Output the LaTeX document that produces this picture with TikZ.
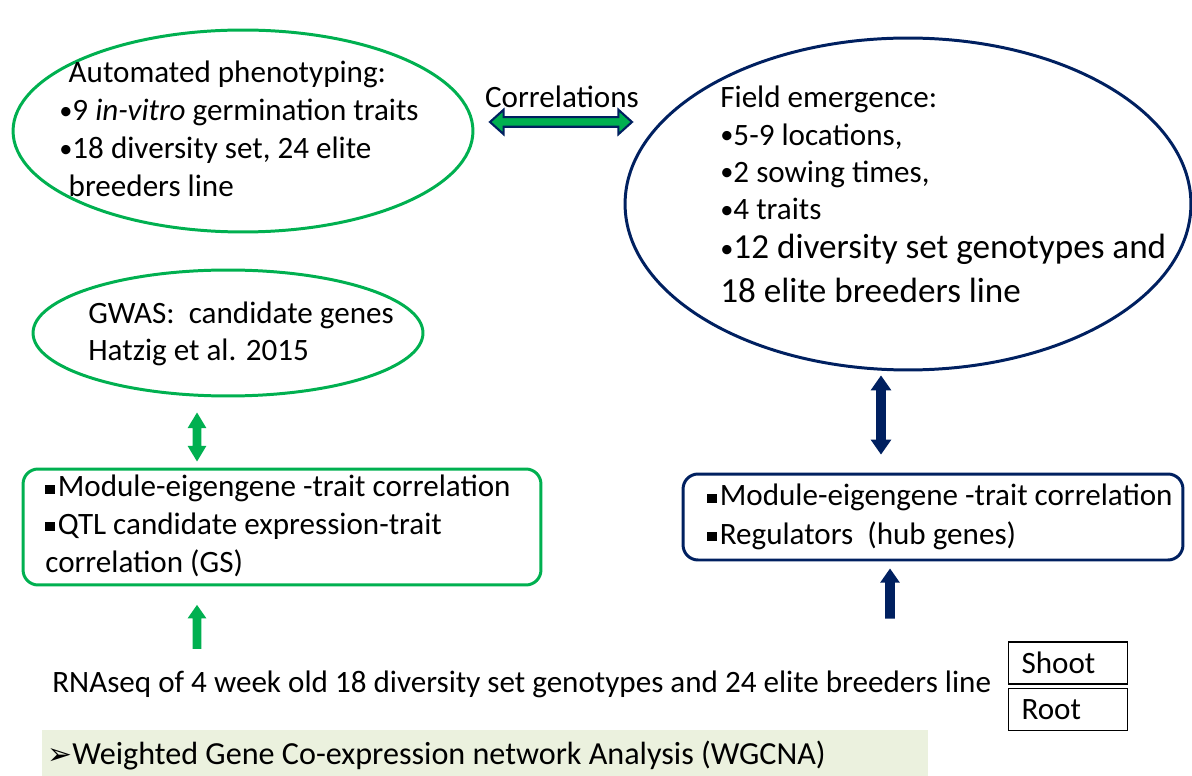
\documentclass[tikz,border=0pt]{standalone}
\usepackage{fontspec}
\setmainfont{Carlito}
\newfontfamily\symfont{DejaVu Sans}
\usetikzlibrary{shapes.geometric,shapes.arrows}
\definecolor{pptgreen}{HTML}{00B050}
\definecolor{pptnavy}{HTML}{002060}
\definecolor{barfill}{HTML}{EBF1DE}
\newcommand{\sqbul}{\rule[0.1em]{0.3em}{0.3em}\hspace{0.1em}}
\newcommand{\bul}{{\fontsize{15}{17}\selectfont\raisebox{0.06em}{•}}}

\begin{document}
\begin{tikzpicture}[x=0.02cm, y=-0.02cm,
    greenell/.style={ellipse, draw=pptgreen, line width=1.7pt, inner sep=0pt},
    navyell/.style={ellipse, draw=pptnavy, line width=1.7pt, inner sep=0pt},
    greenbox/.style={rounded corners=0.3cm, draw=pptgreen, line width=1.7pt},
    navybox/.style={rounded corners=0.3cm, draw=pptnavy, line width=1.7pt},
    txt/.style={align=left, inner sep=0pt, font=\fontsize{17.7}{21.2}\selectfont},
    tissue/.style={draw, line width=0.9pt, minimum width=2.38cm, minimum height=0.84cm,
        text width=1.86cm, inner xsep=0.26cm, align=left, font=\fontsize{17.7}{21}\selectfont},
    fatdouble/.style={double arrow, rotate=90, inner sep=0.08cm, double arrow head extend=0.1cm},
    fatsingle/.style={single arrow, rotate=90, inner sep=0.08cm, single arrow head extend=0.1cm}]
    \useasboundingbox (0,0) rectangle (1192,776);

    % Ellipses
    \node[greenell, minimum width=9.2cm, minimum height=4.04cm] (pheno) at (243,131) {};
    \node[navyell, minimum width=11.32cm, minimum height=6.64cm] (field) at (908,204) {};
    \node[greenell, minimum width=7.8cm, minimum height=2.52cm] (gwas) at (228,333) {};

    \node[txt, anchor=north west, font=\fontsize{17.7}{21.6}\selectfont] (phenotxt) at (59,61)
        {\hspace*{0.3em}Automated phenotyping:\\
         \bul9 \textit{in-vitro} germination traits\\
         \bul18 diversity set, 24 elite\\
         \hspace*{0.3em}breeders line};
    \node[txt, anchor=north west, font=\fontsize{17.7}{21.2}\selectfont] (fieldtxt) at (720,86)
        {Field emergence:\\ \bul5-9 locations,\\ \bul2 sowing times,\\ \bul4 traits\\[1pt]
         {\fontsize{20}{24.4}\selectfont \bul12 diversity set genotypes and}\\[4pt]
         {\fontsize{20}{24.4}\selectfont 18 elite breeders line}};
    \node[txt, anchor=north west, font=\fontsize{17.7}{20.6}\selectfont] (gwastxt) at (88,302)
        {GWAS:\ \ candidate genes\\ Hatzig et al. 2015};

    % Correlation arrow
    \node[txt, anchor=center] (corrtxt) at (562,97) {Correlations};
    \node[double arrow, draw=pptnavy, fill=pptgreen, line width=1.2pt, inner sep=0.075cm,
        double arrow head extend=0.15cm, double arrow tip angle=84, minimum height=2.84cm] (corr) at (561,122) {};

    % Boxes
    \node[greenbox, minimum width=10.36cm, minimum height=2.32cm] (leftbox) at (282,527) {};
    \node[txt, anchor=north west, font=\fontsize{17.7}{21.4}\selectfont] (lefttxt) at (45,475)
        {\sqbul Module-eigengene -trait correlation\\
         \sqbul QTL candidate expression-trait\\
         correlation (GS)};
    \node[navybox, minimum width=10cm, minimum height=1.72cm] (rightbox) at (933,517) {};
    \node[txt, anchor=north west, font=\fontsize{17.7}{21.8}\selectfont] (righttxt) at (707,484)
        {\sqbul Module-eigengene -trait correlation\\
         \sqbul Regulators\ \ (hub genes)};

    % Block arrows
    \node[fatdouble, fill=pptgreen, double arrow tip angle=62, minimum height=0.98cm] (garrow) at (197,437) {};
    \node[fatdouble, fill=pptnavy, inner sep=0.09cm, double arrow head extend=0.11cm,
        double arrow tip angle=70, minimum height=1.58cm] (narrow) at (881,415) {};
    \node[fatsingle, fill=pptgreen, single arrow tip angle=70, minimum height=0.88cm] (gup) at (197,630) {};
    \node[fatsingle, fill=pptnavy, inner sep=0.09cm, single arrow tip angle=70, minimum height=1.0cm] (nup) at (890,597) {};

    % RNAseq line and tissues
    \node[txt, anchor=west] (rna) at (52,684)
        {RNAseq of 4 week old 18 diversity set genotypes and 24 elite breeders line};
    \node[tissue] (shoot) at (1068,663) {Shoot};
    \node[tissue] (root) at (1068,709.5) {Root};

    % WGCNA bar
    \node[fill=barfill, minimum width=17.72cm, minimum height=0.92cm, anchor=north west, inner sep=0pt] (bar) at (42,730) {};
    \node[txt, anchor=west, font=\fontsize{18.3}{22}\selectfont] (bartxt) at (47,755)
        {{\symfont\fontsize{17}{20}\selectfont ➢}Weighted Gene Co-expression network Analysis (WGCNA)};
\end{tikzpicture}
\end{document}
